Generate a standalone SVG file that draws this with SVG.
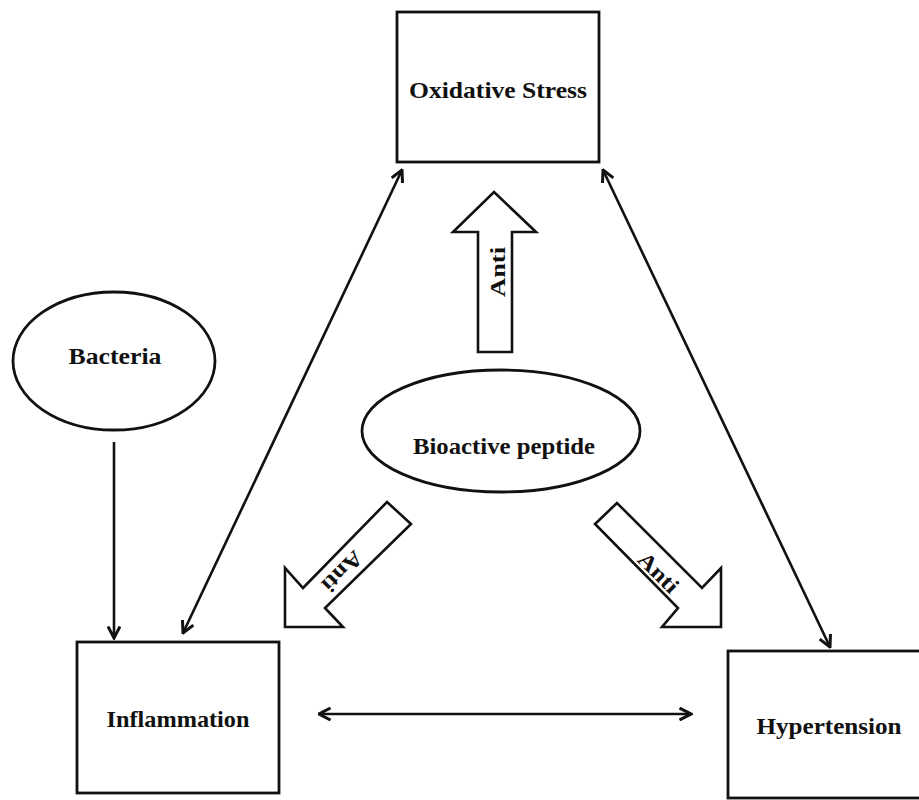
<svg xmlns="http://www.w3.org/2000/svg" width="919" height="800" viewBox="0 0 919 800">
<style>
.box{fill:#fff;stroke:#111;stroke-width:2.8}
.blk{fill:#fff;stroke:#111;stroke-width:2.6;stroke-linejoin:miter}
.ln{fill:none;stroke:#111;stroke-width:2.6}
.t{font-family:"Liberation Serif","Times New Roman",serif;font-weight:bold;font-size:24px;fill:#111;text-anchor:middle}
.a{font-size:22px}
</style>
<defs>
<marker id="ah" viewBox="0 0 14 14" refX="12.5" refY="7" markerWidth="14" markerHeight="14" markerUnits="userSpaceOnUse" orient="auto-start-reverse">
<path d="M1,1 L12.5,7 L1,13" fill="none" stroke="#111" stroke-width="3"/>
</marker>
</defs>
<rect width="919" height="800" fill="#fff"/>
<g id="connectors">
<line class="ln" x1="402" y1="170" x2="183" y2="633" marker-start="url(#ah)" marker-end="url(#ah)"/>
<line class="ln" x1="603" y1="170" x2="830" y2="647" marker-start="url(#ah)" marker-end="url(#ah)"/>
<line class="ln" x1="114" y1="442" x2="114" y2="638" marker-end="url(#ah)"/>
<line class="ln" x1="319" y1="714" x2="691" y2="714" marker-start="url(#ah)" marker-end="url(#ah)"/>
</g>
<g id="oxidative-stress">
<rect class="box" x="397" y="12" width="202" height="150"/>
<text class="t" x="498" y="98" textLength="178" lengthAdjust="spacingAndGlyphs">Oxidative Stress</text>
</g>
<g id="bacteria">
<ellipse class="box" cx="114" cy="361" rx="101" ry="69"/>
<text class="t" x="115" y="364" textLength="93" lengthAdjust="spacingAndGlyphs">Bacteria</text>
</g>
<g id="bioactive-peptide">
<ellipse class="box" cx="501" cy="431" rx="139" ry="61"/>
<text class="t" x="504" y="454" textLength="182" lengthAdjust="spacingAndGlyphs">Bioactive peptide</text>
</g>
<g id="inflammation">
<rect class="box" x="77" y="642" width="202" height="151"/>
<text class="t" x="178" y="727" textLength="143" lengthAdjust="spacingAndGlyphs">Inflammation</text>
</g>
<g id="hypertension">
<rect class="box" x="728" y="651" width="200" height="147"/>
<text class="t" x="829" y="734" textLength="145" lengthAdjust="spacingAndGlyphs">Hypertension</text>
</g>
<g id="anti-up">
<polygon class="blk" points="494,192 536,232 512,232 512,352 478,352 478,232 453,232"/>
<text class="t a" transform="translate(497,272) rotate(-90)" x="0" y="8" textLength="50" lengthAdjust="spacingAndGlyphs">Anti</text>
</g>
<g id="anti-left">
<polygon class="blk" points="387,502 411,524 325,608 343,627 285,627 285,568 303,588"/>
<text class="t a" transform="translate(343,572) rotate(135)" x="0" y="8" textLength="48" lengthAdjust="spacingAndGlyphs">Anti</text>
</g>
<g id="anti-right">
<polygon class="blk" points="617,503 595,524 678,608 662,627 721,627 721,568 702,588"/>
<text class="t a" transform="translate(659,572) rotate(45)" x="0" y="8" textLength="48" lengthAdjust="spacingAndGlyphs">Anti</text>
</g>
</svg>
